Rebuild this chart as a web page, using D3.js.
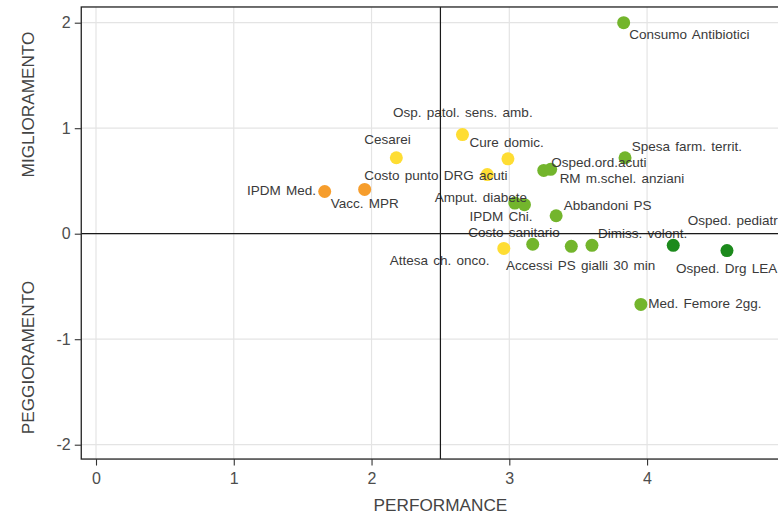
<!DOCTYPE html>
<html><head><meta charset="utf-8">
<script src="https://cdn.jsdelivr.net/npm/d3@7/dist/d3.min.js"></script>
<style>body{margin:0;background:#fff}svg{display:block}</style>
</head><body>
<svg id="chart" width="778" height="515"></svg>
<script>
// ---- data ----
const indicators = ["Consumo Antibiotici","Osp. patol. sens. amb.","Cesarei","Cure domic.","Costo punto DRG acuti",
  "Spesa farm. territ.","Osped.ord.acuti","RM m.schel. anziani","IPDM Med.","Vacc. MPR",
  "Amput. diabete","IPDM Chi.","Abbandoni PS","Attesa ch. onco.","Costo sanitario",
  "Accessi PS gialli 30 min","Dimiss. volont.","Osped. pediatrici","Osped. Drg LEA","Med. Femore 2gg."];
const performance = [3.83,2.66,2.18,2.99,2.84, 3.84,3.25,3.30,1.66,1.95, 3.04,3.11,3.34,2.96,3.17, 3.45,3.60,4.19,4.58,3.955];
const trend       = [2.00,0.94,0.72,0.71,0.56, 0.72,0.60,0.61,0.40,0.42, 0.29,0.275,0.17,-0.14,-0.10, -0.12,-0.11,-0.11,-0.16,-0.67];
const classes     = ["g","y","y","y","y", "g","g","g","o","o", "g","g","g","y","g", "g","g","d","d","g"];
const xTicks = [0,1,2,3,4];
const yTicks = [-2,-1,0,1,2];
const xTitle = "PERFORMANCE";
const yTitleTop = "MIGLIORAMENTO";
const yTitleBottom = "PEGGIORAMENTO";
const xThreshold = 2.5, yThreshold = 0;

// label placement (pixel offsets from each point, text-anchor start / baseline)
const labelDx = [5.7,-69.4,-32,-38.4,-123, 6.7,7.4,9,-77.6,-34, -80,-55,7.6,-114,-64.5, -65.3,6,14.4,-51,7.3];
const labelDy = [16.3,-17.7,-13.3,-11.7,5, -6.6,-3.4,14,3.7,19, -1.6,16.7,-5.7,16.7,-7.5, 23.3,-7.4,-20.7,22.3,4];

const colorMap = {y:"#FEDD33", o:"#F69D2C", g:"#73B52C", d:"#1C8A1C"};

// ---- chart ----
const svg = d3.select("#chart");
const W = 778, H = 515;
const x = d3.scaleLinear().domain([-0.107, 5.2]).range([81.26, 812.4]);
const y = d3.scaleLinear().domain([-2.136, 2.149]).range([459.05, 6.98]);
const [px0, px1] = x.range(), [py1, py0] = y.range();

svg.append("rect").attr("width", W).attr("height", H).attr("fill", "#fff");
svg.append("defs").append("clipPath").attr("id","clip").append("rect")
  .attr("x", px0).attr("y", py0).attr("width", px1 - px0).attr("height", py1 - py0);

const font = "'Liberation Sans', Arial, sans-serif";
const panel = svg.append("g").attr("clip-path","url(#clip)");

// grid
panel.selectAll("line.gx").data(xTicks.concat([5])).join("line")
  .attr("x1", d => x(d)).attr("x2", d => x(d)).attr("y1", py0).attr("y2", py1)
  .attr("stroke", "#e4e4e4").attr("stroke-width", 1.2);
panel.selectAll("line.gy").data(yTicks).join("line")
  .attr("y1", d => y(d)).attr("y2", d => y(d)).attr("x1", px0).attr("x2", px1)
  .attr("stroke", "#e4e4e4").attr("stroke-width", 1.2);

const data = indicators.map((n, i) => ({name: n, px: performance[i], tr: trend[i], c: classes[i], dx: labelDx[i], dy: labelDy[i]}));

// points
panel.selectAll("circle").data(data).join("circle")
  .attr("cx", d => x(d.px)).attr("cy", d => y(d.tr)).attr("r", 6.5)
  .attr("fill", d => colorMap[d.c]);

// labels
panel.selectAll("text.lab").data(data).join("text").attr("class","lab")
  .attr("x", d => x(d.px) + d.dx).attr("y", d => y(d.tr) + d.dy)
  .attr("font-family", font).attr("font-size", 13.5).attr("word-spacing", 1.5)
  .attr("fill", "#3a3a3a").text(d => d.name);

// threshold lines
panel.append("line").attr("x1", x(xThreshold)).attr("x2", x(xThreshold)).attr("y1", py0).attr("y2", py1)
  .attr("stroke", "#1a1a1a").attr("stroke-width", 1.2);
panel.append("line").attr("x1", px0).attr("x2", px1).attr("y1", y(yThreshold)).attr("y2", y(yThreshold))
  .attr("stroke", "#1a1a1a").attr("stroke-width", 1.2);

// border
svg.append("rect").attr("x", px0).attr("y", py0).attr("width", px1 - px0).attr("height", py1 - py0)
  .attr("fill", "none").attr("stroke", "#222").attr("stroke-width", 1.3);

// axes
const xAxis = svg.append("g").attr("transform", `translate(0,${py1})`)
  .call(d3.axisBottom(x).tickValues(xTicks).tickSize(6.5).tickPadding(7.5).tickFormat(d3.format("d")));
const yAxis = svg.append("g").attr("transform", `translate(${px0},0)`)
  .call(d3.axisLeft(y).tickValues(yTicks).tickSize(6.5).tickPadding(4).tickFormat(d => d < 0 ? "-" + Math.abs(d) : d));
[xAxis, yAxis].forEach(a => {
  a.select(".domain").remove();
  a.selectAll(".tick line").attr("stroke", "#333").attr("stroke-width", 1.1);
  a.selectAll(".tick text").attr("font-family", font).attr("font-size", 16).attr("fill", "#4d4d4d");
});

// titles
svg.append("text").attr("x", x(xThreshold)).attr("y", 511).attr("text-anchor", "middle")
  .attr("font-family", font).attr("font-size", 17.2).attr("fill", "#444").text(xTitle);
svg.append("text").attr("transform", "translate(33.5,104.5) rotate(-90)").attr("text-anchor", "middle")
  .attr("font-family", font).attr("font-size", 17.2).attr("fill", "#444").text(yTitleTop);
svg.append("text").attr("transform", "translate(33.5,357.5) rotate(-90)").attr("text-anchor", "middle")
  .attr("font-family", font).attr("font-size", 17.2).attr("fill", "#444").text(yTitleBottom);
</script>
</body></html>
